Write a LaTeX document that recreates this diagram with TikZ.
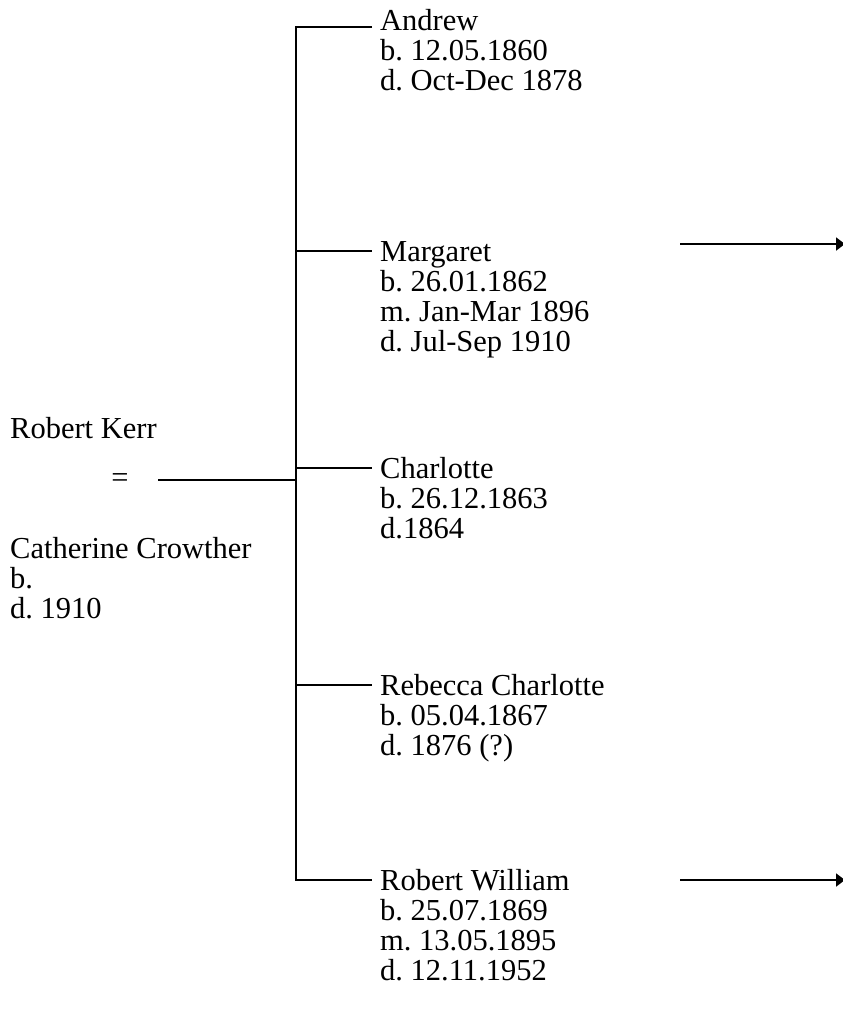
\documentclass[tikz,border=0pt]{standalone}
\usepackage{fontspec}
\setmainfont{Liberation Serif}
\frenchspacing
\usetikzlibrary{arrows.meta}
\begin{document}
\begin{tikzpicture}[x=1pt,y=-1pt,
  % each person block is placed by the baseline of its last line
  person/.style={anchor=base west,inner sep=0pt,align=left,
    font=\fontsize{30.5}{30}\selectfont},
  link/.style={line width=1.6pt},
  onward/.style={line width=1.9pt,-{Triangle[length=9pt,width=13pt]}}]
\useasboundingbox (0,0) rectangle (843,1029);

% parents
\node[person] (robert) at (10,438) {Robert Kerr};
\node[anchor=center,inner sep=0pt,font=\fontsize{30.5}{30}\selectfont] (eqsign) at (120,481) {=};
\node[person] (catherine) at (10,618) {Catherine Crowther\\b.\\d. 1910};

% children
\node[person] (andrew)    at (380,90)  {Andrew\\b. 12.05.1860\\d. Oct-Dec 1878};
\node[person] (margaret)  at (380,351) {Margaret\\b. 26.01.1862\\m. Jan-Mar 1896\\d. Jul-Sep 1910};
\node[person] (charlotte) at (380,538) {Charlotte\\b. 26.12.1863\\d.1864};
\node[person] (rebecca)   at (380,755) {Rebecca Charlotte\\b. 05.04.1867\\d. 1876 (?)};
\node[person] (robertw)   at (380,980) {Robert William\\b. 25.07.1869\\m. 13.05.1895\\d. 12.11.1952};

% family bracket
\coordinate (spinetop) at (296,27);
\coordinate (spinebot) at (296,880);
\coordinate (tickA) at (372,27);
\coordinate (tickM) at (372,251);
\coordinate (tickC) at (372,468);
\coordinate (tickR) at (372,685);
\coordinate (tickW) at (372,880);
\coordinate (spineM) at (296,251);
\coordinate (spineC) at (296,468);
\coordinate (spineR) at (296,685);
\coordinate (marriage) at (158,480);
\coordinate (spineE) at (296,480);

\draw[link] (tickA) -- (spinetop) -- (spinebot) -- (tickW);
\draw[link] (spineM) -- (tickM);
\draw[link] (spineC) -- (tickC);
\draw[link] (spineR) -- (tickR);
\draw[link] (marriage) -- (spineE);

% continuation arrows
\coordinate (arrMs) at (680,244);
\coordinate (arrMe) at (845,244);
\coordinate (arrWs) at (680,880);
\coordinate (arrWe) at (845,880);
\draw[onward] (arrMs) -- (arrMe);
\draw[onward] (arrWs) -- (arrWe);
\end{tikzpicture}
\end{document}
